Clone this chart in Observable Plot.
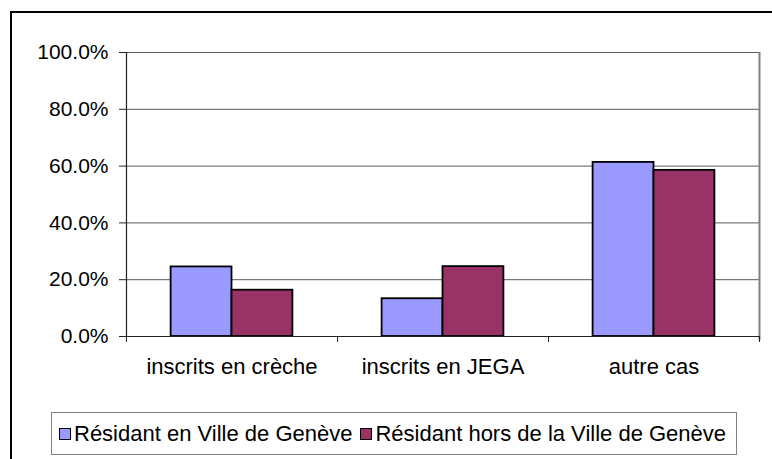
<!DOCTYPE html>
<html>
<head>
<meta charset="utf-8">
<script src="https://cdn.jsdelivr.net/npm/d3@7"></script>
<script src="https://cdn.jsdelivr.net/npm/@observablehq/plot@0.6"></script>
<style>
  html, body { margin: 0; padding: 0; background: #fff; }
  body { font-family: "Liberation Sans", Arial, sans-serif; }
  #wrap { position: relative; width: 772px; height: 459px; overflow: hidden; background: #fff; }
  #frame { position: absolute; left: 10px; top: 11px; width: 800px; height: 500px; border: 2px solid #000; box-sizing: border-box; }
  #chart { position: absolute; left: 0; top: 0; }
  #legend { position: absolute; left: 51px; top: 412px; width: 686px; height: 43px; border: 1.5px solid #808080; box-sizing: border-box;
            display: flex; align-items: center; padding-left: 7px; font-size: 22px; color: #000; white-space: nowrap; }
  .item { display: flex; align-items: center; }
  .item + .item { margin-left: 8px; }
  .sw { width: 12px; height: 12px; box-sizing: border-box; border: 1.5px solid #000; margin-right: 3px; }
</style>
</head>
<body>
<div id="wrap">
  <div id="frame"></div>
  <div id="chart"></div>
  <div id="legend"></div>
</div>
<script>
// Data
const categories = ["inscrits en crèche", "inscrits en JEGA", "autre cas"];
const seriesNames = ["Résidant en Ville de Genève", "Résidant hors de la Ville de Genève"];
const valuesVille = [0.245, 0.133, 0.613];
const valuesHors = [0.163, 0.246, 0.585];
const yTicks = [0, 0.2, 0.4, 0.6, 0.8, 1.0];
const seriesColors = ["#9999FF", "#993366"];

const seriesValues = [valuesVille, valuesHors];
const table = categories.flatMap((c, i) =>
  seriesNames.map((s, j) => ({category: c, series: s, si: j, value: seriesValues[j][i]}))
);

// layout of bars inside each category slot (scale domain)
const xMin = -0.7325, xMax = 2.7325;

const chart = Plot.plot({
  width: 772,
  height: 400,
  marginLeft: 125,
  marginRight: 13,
  marginTop: 52,
  marginBottom: 64,
  style: {background: "transparent", fontFamily: "'Liberation Sans', Arial, sans-serif", color: "#000", overflow: "visible"},
  fx: {domain: categories, padding: 0, label: null},
  x: {domain: [xMin, xMax], label: null},
  y: {domain: [0, 1], label: null},
  color: {domain: seriesNames, range: seriesColors},
  marks: [
    Plot.ruleY(yTicks.slice(1), {stroke: "#5a5a5a", strokeWidth: 1}),
    Plot.ruleX([{c: categories[categories.length - 1], x: xMax}], {fx: "c", x: "x", stroke: "#808080", strokeWidth: 2, insetBottom: -4}),
    Plot.rectY(table, {fx: "category", x1: "si", x2: d => d.si + 1, y: "value", fill: "series", stroke: "#000", strokeWidth: 1.8}),
    Plot.ruleX([{c: categories[0], x: xMin}], {fx: "c", x: "x", stroke: "#222", strokeWidth: 1.2}),
    Plot.ruleY([0], {stroke: "#222", strokeWidth: 1.2}),
    Plot.axisY(yTicks, {tickFormat: d => (d * 100).toFixed(1) + "%", tickSize: 7, tickPadding: 11, fontSize: 21, stroke: "#222", label: null}),
    Plot.axisX([xMin, xMax], {tickSize: 6, tickFormat: () => "", stroke: "#222", label: null}),
    Plot.axisFx({anchor: "bottom", tickSize: 0, tickPadding: 22, fontSize: 22, label: null})
  ]
});
document.getElementById("chart").appendChild(chart);

// Legend
const legend = document.getElementById("legend");
seriesNames.forEach((name, i) => {
  const item = document.createElement("div");
  item.className = "item";
  const sw = document.createElement("span");
  sw.className = "sw";
  sw.style.background = seriesColors[i];
  const label = document.createElement("span");
  label.textContent = name;
  item.appendChild(sw);
  item.appendChild(label);
  legend.appendChild(item);
});
</script>
</body>
</html>
